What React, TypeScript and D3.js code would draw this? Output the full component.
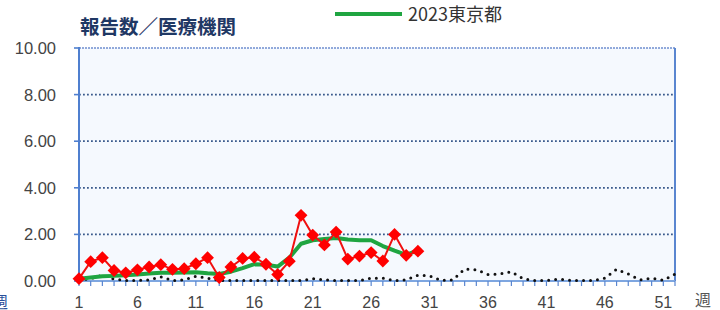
import * as d3 from 'd3';

// 週 1..52
const weeks: number[] = d3.range(1, 53);
const xTickWeeks = [1, 6, 11, 16, 21, 26, 31, 36, 41, 46, 51];
const yTicks = [0, 2, 4, 6, 8, 10];

// current season (red, diamonds), weeks 1-30
const redValues = [0.1, 0.83, 1.0, 0.45, 0.35, 0.48, 0.6, 0.7, 0.5, 0.53, 0.74, 1.0, 0.15, 0.6, 0.97, 1.02,
  0.72, 0.28, 0.85, 2.82, 1.97, 1.55, 2.1, 0.94, 1.07, 1.22, 0.86, 2.0, 1.1, 1.28];

// 2023東京都 (green), weeks 1-30
const greenValues = [0.1, 0.15, 0.2, 0.22, 0.25, 0.28, 0.32, 0.35, 0.35, 0.36, 0.38, 0.33, 0.3, 0.4, 0.55, 0.72,
  0.7, 0.62, 1.0, 1.6, 1.75, 1.8, 1.85, 1.78, 1.75, 1.75, 1.5, 1.3, 1.12, 1.32];

// previous year (black dotted), weeks 1-52
const blackValues = [0.05, 0.1, 0.25, 0.08, 0.02, 0.02, 0.05, 0.18, 0.02, 0.05, 0.2, 0.12, 0.02, 0.02, 0.02, 0.02,
  0.02, 0.02, 0.02, 0.02, 0.1, 0.05, 0.02, 0.02, 0.02, 0.12, 0.12, 0.02, 0.05, 0.25, 0.22, 0.02, 0.05, 0.52,
  0.48, 0.28, 0.3, 0.4, 0.1, 0.02, 0.02, 0.08, 0.03, 0.02, 0.02, 0.12, 0.5, 0.3, 0.05, 0.12, 0.03, 0.3];

const legendLabel = '2023東京都';
const title = '報告数／医療機関';

export default function App() {
  const width = 720;
  const height = 310;
  const x = d3.scaleLinear().domain([1, 52]).range([79, 675]);
  const y = d3.scaleLinear().domain([0, 10]).range([281, 48]);

  const line = d3.line<number>()
    .x((d, i) => x(i + 1))
    .y(d => y(d));

  const diamond = d3.symbol().type(d3.symbolDiamond2).size(105)();
  const font = '"Liberation Sans", Arial, sans-serif';
  const jp = '"Noto Sans CJK JP", sans-serif';

  return (
    <svg width={width} height={height} style={{ position: 'absolute', left: 0, top: 0, background: '#fff' }}>
      {/* plot area */}
      <rect x={x(1)} y={y(10)} width={x(52) - x(1)} height={y(0) - y(10)} fill="#f5f9fe" />

      {/* gridlines */}
      {yTicks.filter(t => t > 0 && t < 10).map(t => (
        <line key={t} x1={x(1)} x2={x(52)} y1={y(t)} y2={y(t)}
          stroke="#3a5a8c" strokeWidth={1.8} strokeDasharray="1.8 2.2" />
      ))}
      <line x1={x(1)} x2={x(52)} y1={y(10)} y2={y(10)} stroke="#6f8fd0" strokeWidth={1.6} strokeDasharray="2 1" />
      <line x1={x(52)} x2={x(52)} y1={y(10)} y2={y(0)} stroke="#5a86d0" strokeWidth={2} />

      {/* x axis */}
      <line x1={x(1)} x2={x(52)} y1={y(0)} y2={y(0)} stroke="#7ea6e0" strokeWidth={2} />
      {weeks.map(w => (
        <line key={w} x1={x(w)} x2={x(w)} y1={y(0)} y2={y(0) + 5} stroke="#5a86d0" strokeWidth={1.2} />
      ))}
      {xTickWeeks.map(w => (
        <text key={w} x={x(w)} y={308} textAnchor="middle" fontFamily={font} fontSize={16} fill="#444">{w}</text>
      ))}

      {/* y axis */}
      <line x1={x(1)} x2={x(1)} y1={y(10) - 1} y2={y(0)} stroke="#4f7fcf" strokeWidth={2} />
      {yTicks.map(t => (
        <g key={t}>
          <line x1={x(1) - 5} x2={x(1)} y1={y(t)} y2={y(t)} stroke="#4f7fcf" strokeWidth={1.6} />
          <text x={56} y={y(t)} dy="0.36em" textAnchor="end" fontFamily={font} fontSize={16.5} fill="#444">
            {d3.format('.2f')(t)}
          </text>
        </g>
      ))}

      {/* series */}
      <path d={line(blackValues) ?? ''} fill="none" stroke="#111" strokeWidth={3}
        strokeDasharray="0 7" strokeLinecap="round" />
      <path d={line(greenValues) ?? ''} fill="none" stroke="#1fa541" strokeWidth={4} strokeLinejoin="round" />
      <path d={line(redValues) ?? ''} fill="none" stroke="#f01010" strokeWidth={2} />
      {redValues.map((v, i) => (
        <path key={i} d={diamond ?? ''} transform={`translate(${x(i + 1)},${y(v)})`} fill="#ff0000" />
      ))}

      {/* title & legend */}
      <text x={80} y={34} fontFamily={jp} fontWeight={700} fontSize={19.5} fill="#1f3864">{title}</text>
      <line x1={335} x2={402} y1={14} y2={14} stroke="#1fa541" strokeWidth={4} />
      <text x={408} y={21} fontFamily={jp} fontSize={18} fill="#333">{legendLabel}</text>

      {/* 週 labels */}
      <text x={-8} y={308} fontFamily={jp} fontSize={16} fill="#2a4f9a">週</text>
      <text x={695} y={306} fontFamily={jp} fontSize={16} fill="#555">週</text>
    </svg>
  );
}
